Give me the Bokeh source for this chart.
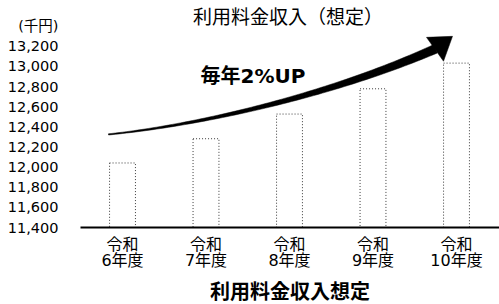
import numpy as np
from bokeh.plotting import figure
from bokeh.models import Range1d, FixedTicker, Label, Title
from bokeh.embed import file_html
from bokeh.resources import INLINE

# ---- data ----
categories = ["令和\n6年度", "令和\n7年度", "令和\n8年度", "令和\n9年度", "令和\n10年度"]
revenue = [12041, 12282, 12527, 12778, 13033]   # 千円
y_ticks = [11400, 11600, 11800, 12000, 12200, 12400, 12600, 12800, 13000, 13200]
unit_label = "(千円)"
title_text = "利用料金収入（想定）"
growth_text = "毎年2%UP"
axis_title = "利用料金収入想定"

FONT_NUM = "'DejaVu Sans', 'Noto Sans CJK JP'"
FONT_JP = "'Noto Sans CJK JP'"

W, H = 499, 304
LEFT, AXIS_Y = 80, 228
BOTTOM = H - AXIS_Y
frame_w, frame_h = W - LEFT, AXIS_Y
px_per_cat = 83.5
y_base = 11400
val_per_px = 9.891
x0 = 1 - (122 - LEFT) / px_per_cat
x_range = Range1d(x0, x0 + frame_w / px_per_cat)
y_range = Range1d(y_base, y_base + frame_h * val_per_px)

p = figure(width=W, height=H, x_range=x_range, y_range=y_range,
           output_backend="svg", toolbar_location=None,
           min_border_left=LEFT, min_border_right=0, min_border_top=0,
           min_border_bottom=BOTTOM)
p.outline_line_color = None
p.xgrid.visible = False
p.ygrid.visible = False
p.background_fill_color = "white"

xs = list(range(1, len(categories) + 1))
p.vbar(x=xs, top=revenue, bottom=y_base, width=0.31,
       fill_color="white", line_color="#3a3a3a", line_width=1,
       line_dash="1 2")

# y axis
unit_tick = y_ticks[-1] + (y_ticks[1] - y_ticks[0])
p.yaxis.ticker = FixedTicker(ticks=y_ticks + [unit_tick])
ov = {t: f"{t:,}" for t in y_ticks}
ov[unit_tick] = unit_label
p.yaxis.major_label_overrides = ov
p.yaxis.axis_line_color = None
p.yaxis.major_tick_line_color = None
p.yaxis.minor_tick_line_color = None
p.yaxis.major_label_standoff = 16
p.yaxis.major_label_text_font = FONT_NUM
p.yaxis.major_label_text_font_size = "14.5px"
p.yaxis.major_label_text_color = "black"

# x axis
p.xaxis.ticker = FixedTicker(ticks=xs)
p.xaxis.major_label_overrides = {x: c for x, c in zip(xs, categories)}
p.xaxis.axis_line_color = "black"
p.xaxis.axis_line_width = 2
p.xaxis.major_tick_line_color = None
p.xaxis.minor_tick_line_color = None
p.xaxis.major_label_standoff = 1
p.xaxis.major_label_text_font = FONT_NUM
p.xaxis.major_label_text_font_size = "16px"
p.xaxis.major_label_text_line_height = 0.88
p.xaxis.major_label_text_color = "black"

# axis title as a title panel below the axis
p.add_layout(Title(text=axis_title, align="center", offset=-23, standoff=0,
                   text_font=FONT_JP, text_font_size="20px", text_line_height=1.0,
                   text_font_style="bold", text_color="black"), "below")


def dx(px):
    return 1 + (px - 122) / px_per_cat


def dy(py):
    return y_base + (AXIS_Y - py) * val_per_px


# arrow (tapered cubic curve + head), defined in pixel space of the picture
P = np.array([[108, 134.5], [200, 125], [330, 95], [435, 48.5]], float)
t = np.linspace(0, 1, 80)[:, None]
curve = ((1 - t) ** 3) * P[0] + 3 * ((1 - t) ** 2) * t * P[1] + 3 * (1 - t) * t ** 2 * P[2] + t ** 3 * P[3]
deriv = 3 * ((1 - t) ** 2) * (P[1] - P[0]) + 6 * (1 - t) * t * (P[2] - P[1]) + 3 * t ** 2 * (P[3] - P[2])
nrm = np.stack([-deriv[:, 1], deriv[:, 0]], axis=1)
nrm /= np.linalg.norm(nrm, axis=1)[:, None]
w = (1.2 + 8.0 * t[:, 0] ** 1.3) / 2
upper = curve + nrm * w[:, None]
lower = curve - nrm * w[:, None]
poly = np.vstack([upper, lower[::-1]])
p.patch([dx(v) for v in poly[:, 0]], [dy(v) for v in poly[:, 1]],
        fill_color="black", line_color="black", line_width=0.5)
head = np.array([[426, 37], [452, 36], [443, 61]], float)
p.patch([dx(v) for v in head[:, 0]], [dy(v) for v in head[:, 1]],
        fill_color="black", line_color="black", line_width=0.5)

# texts
p.add_layout(Label(x=dx(287.5), y=dy(16.5), text=title_text, text_align="center",
                   text_baseline="middle", text_font=FONT_NUM, text_font_size="19px",
                   text_color="black"))
p.add_layout(Label(x=dx(252.5), y=dy(75.5), text=growth_text, text_align="center",
                   text_baseline="middle", text_font=FONT_NUM, text_font_size="20px",
                   text_font_style="bold", text_color="black"))

open("out.html", "w").write(file_html(p, INLINE))
